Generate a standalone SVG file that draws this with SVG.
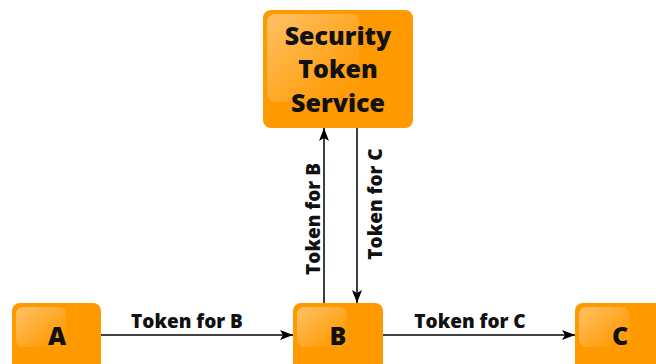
<svg xmlns="http://www.w3.org/2000/svg" width="656" height="364" viewBox="0 0 656 364">
  <defs>
    <linearGradient id="gloss" x1="0" y1="0" x2="1" y2="1">
      <stop offset="0" stop-color="#ffffff" stop-opacity="0.4"/>
      <stop offset="0.7" stop-color="#ffffff" stop-opacity="0.08"/>
      <stop offset="1" stop-color="#ffffff" stop-opacity="0"/>
    </linearGradient>
    <marker id="arrow" viewBox="0 0 13 10" refX="13" refY="5" markerWidth="13" markerHeight="10" markerUnits="userSpaceOnUse" orient="auto">
      <path d="M0,0 L13,5 L0,10 L3,5 Z" fill="#000"/>
    </marker>
  </defs>
  <style>
    .box { fill: #ff9900; }
    .gloss { fill: url(#gloss); }
    .node { font-family: "Open Sans", "Noto Sans", "DejaVu Sans", sans-serif; font-weight: 800; font-size: 25px; fill: #111; text-anchor: middle; }
    .lbl { font-family: "Open Sans", "Noto Sans", "DejaVu Sans", sans-serif; font-weight: 800; font-size: 19px; fill: #111; text-anchor: middle; }
    .edge { stroke: #000; stroke-width: 1.5; fill: none; marker-end: url(#arrow); }
  </style>
  <rect width="656" height="364" fill="#ffffff"/>

  <g id="sts">
    <rect class="box" x="263" y="10" width="150" height="118" rx="8"/>
    <rect class="gloss" x="267" y="14" width="92" height="88" rx="8"/>
    <text class="node" x="338" y="45">Security</text>
    <text class="node" x="338" y="78">Token</text>
    <text class="node" x="338" y="112">Service</text>
  </g>

  <g id="a">
    <rect class="box" x="12" y="303" width="89" height="70" rx="8"/>
    <rect class="gloss" x="16" y="307" width="50" height="40" rx="7"/>
    <text class="node" x="57" y="345">A</text>
  </g>

  <g id="b">
    <rect class="box" x="293" y="303" width="90" height="70" rx="8"/>
    <rect class="gloss" x="297" y="307" width="50" height="40" rx="7"/>
    <text class="node" x="338" y="345">B</text>
  </g>

  <g id="c">
    <rect class="box" x="575" y="303" width="90" height="70" rx="8"/>
    <rect class="gloss" x="579" y="307" width="50" height="40" rx="7"/>
    <text class="node" x="620" y="345">C</text>
  </g>

  <g id="connectors">
    <line class="edge" x1="101" y1="335" x2="293" y2="335"/>
    <text class="lbl" x="187" y="328">Token for B</text>

    <line class="edge" x1="383" y1="335" x2="575" y2="335"/>
    <text class="lbl" x="470" y="328">Token for C</text>

    <line class="edge" x1="324" y1="303" x2="324" y2="128"/>
    <text class="lbl" transform="translate(320,219) rotate(-90)">Token for B</text>

    <line class="edge" x1="357" y1="128" x2="357" y2="303"/>
    <text class="lbl" transform="translate(382,204) rotate(-90)">Token for C</text>
  </g>
</svg>
